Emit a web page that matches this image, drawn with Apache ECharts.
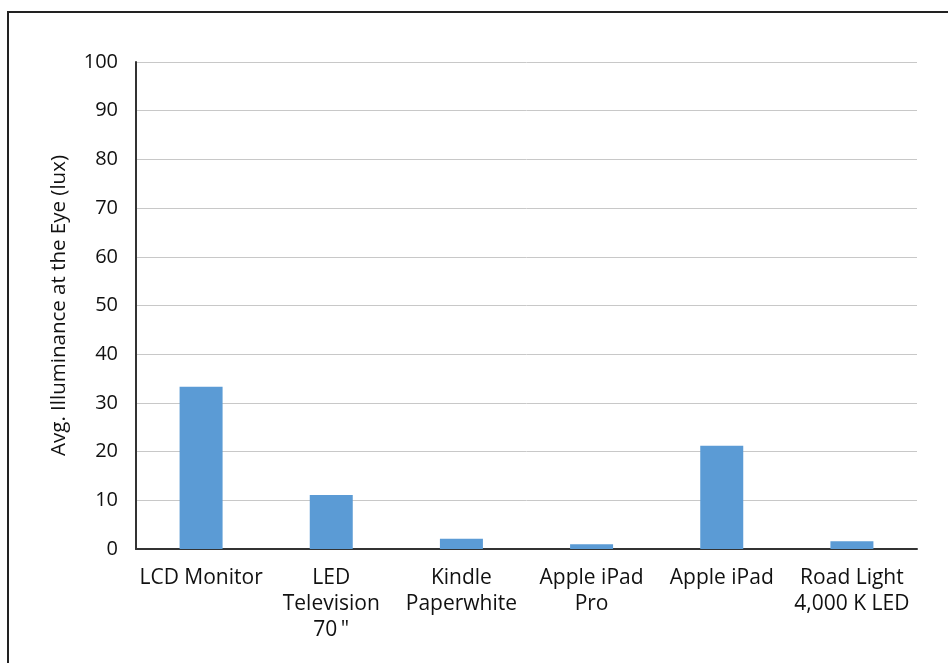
<!DOCTYPE html>
<html><head><meta charset="utf-8">
<script src="https://cdn.jsdelivr.net/npm/echarts@6/dist/echarts.min.js"></script>
<style>
html,body{margin:0;padding:0;background:#fff;}
#frame{position:absolute;left:7px;top:11px;width:960px;height:680px;border-left:2px solid #222;border-top:2px solid #222;}
#c{position:absolute;left:0;top:0;width:948px;height:663px;}
</style></head><body>
<div id="frame"></div>
<div id="c"></div>
<script>
const categories = ["LCD Monitor", "LED\nTelevision\n70\u2009\"", "Kindle\nPaperwhite", "Apple iPad\nPro", "Apple iPad", "Road Light\n4,000 K LED"];
const values = [33.3, 11.1, 2.1, 1.0, 21.2, 1.6];
const yAxisTitle = "Avg. Illuminance at the Eye (lux)";
const font = "'Open Sans', 'Noto Sans', sans-serif";
const chart = echarts.init(document.getElementById('c'));
chart.setOption({
  animation: false,
  grid: {left: 136, right: 31, top: 62, bottom: 114},
  xAxis: {
    type: 'category', data: categories,
    axisLine: {lineStyle: {color: '#333', width: 2}},
    axisTick: {show: false},
    axisLabel: {color: '#111', fontSize: 21, fontFamily: font, lineHeight: 26, margin: 16, interval: 0}
  },
  yAxis: {
    type: 'value', min: 0, max: 100, interval: 10,
    name: yAxisTitle, nameLocation: 'middle', nameGap: 66, nameRotate: 90,
    nameTextStyle: {color: '#111', fontSize: 20.5, fontFamily: font},
    axisLine: {show: true, lineStyle: {color: '#333', width: 2}},
    axisTick: {show: false},
    splitLine: {lineStyle: {color: '#c8c8c8', width: 1}},
    axisLabel: {color: '#111', fontSize: 20, fontFamily: font, margin: 18}
  },
  series: [{type: 'bar', data: values, barWidth: 43, itemStyle: {color: '#5b9bd5'}}]
});
</script></body></html>
